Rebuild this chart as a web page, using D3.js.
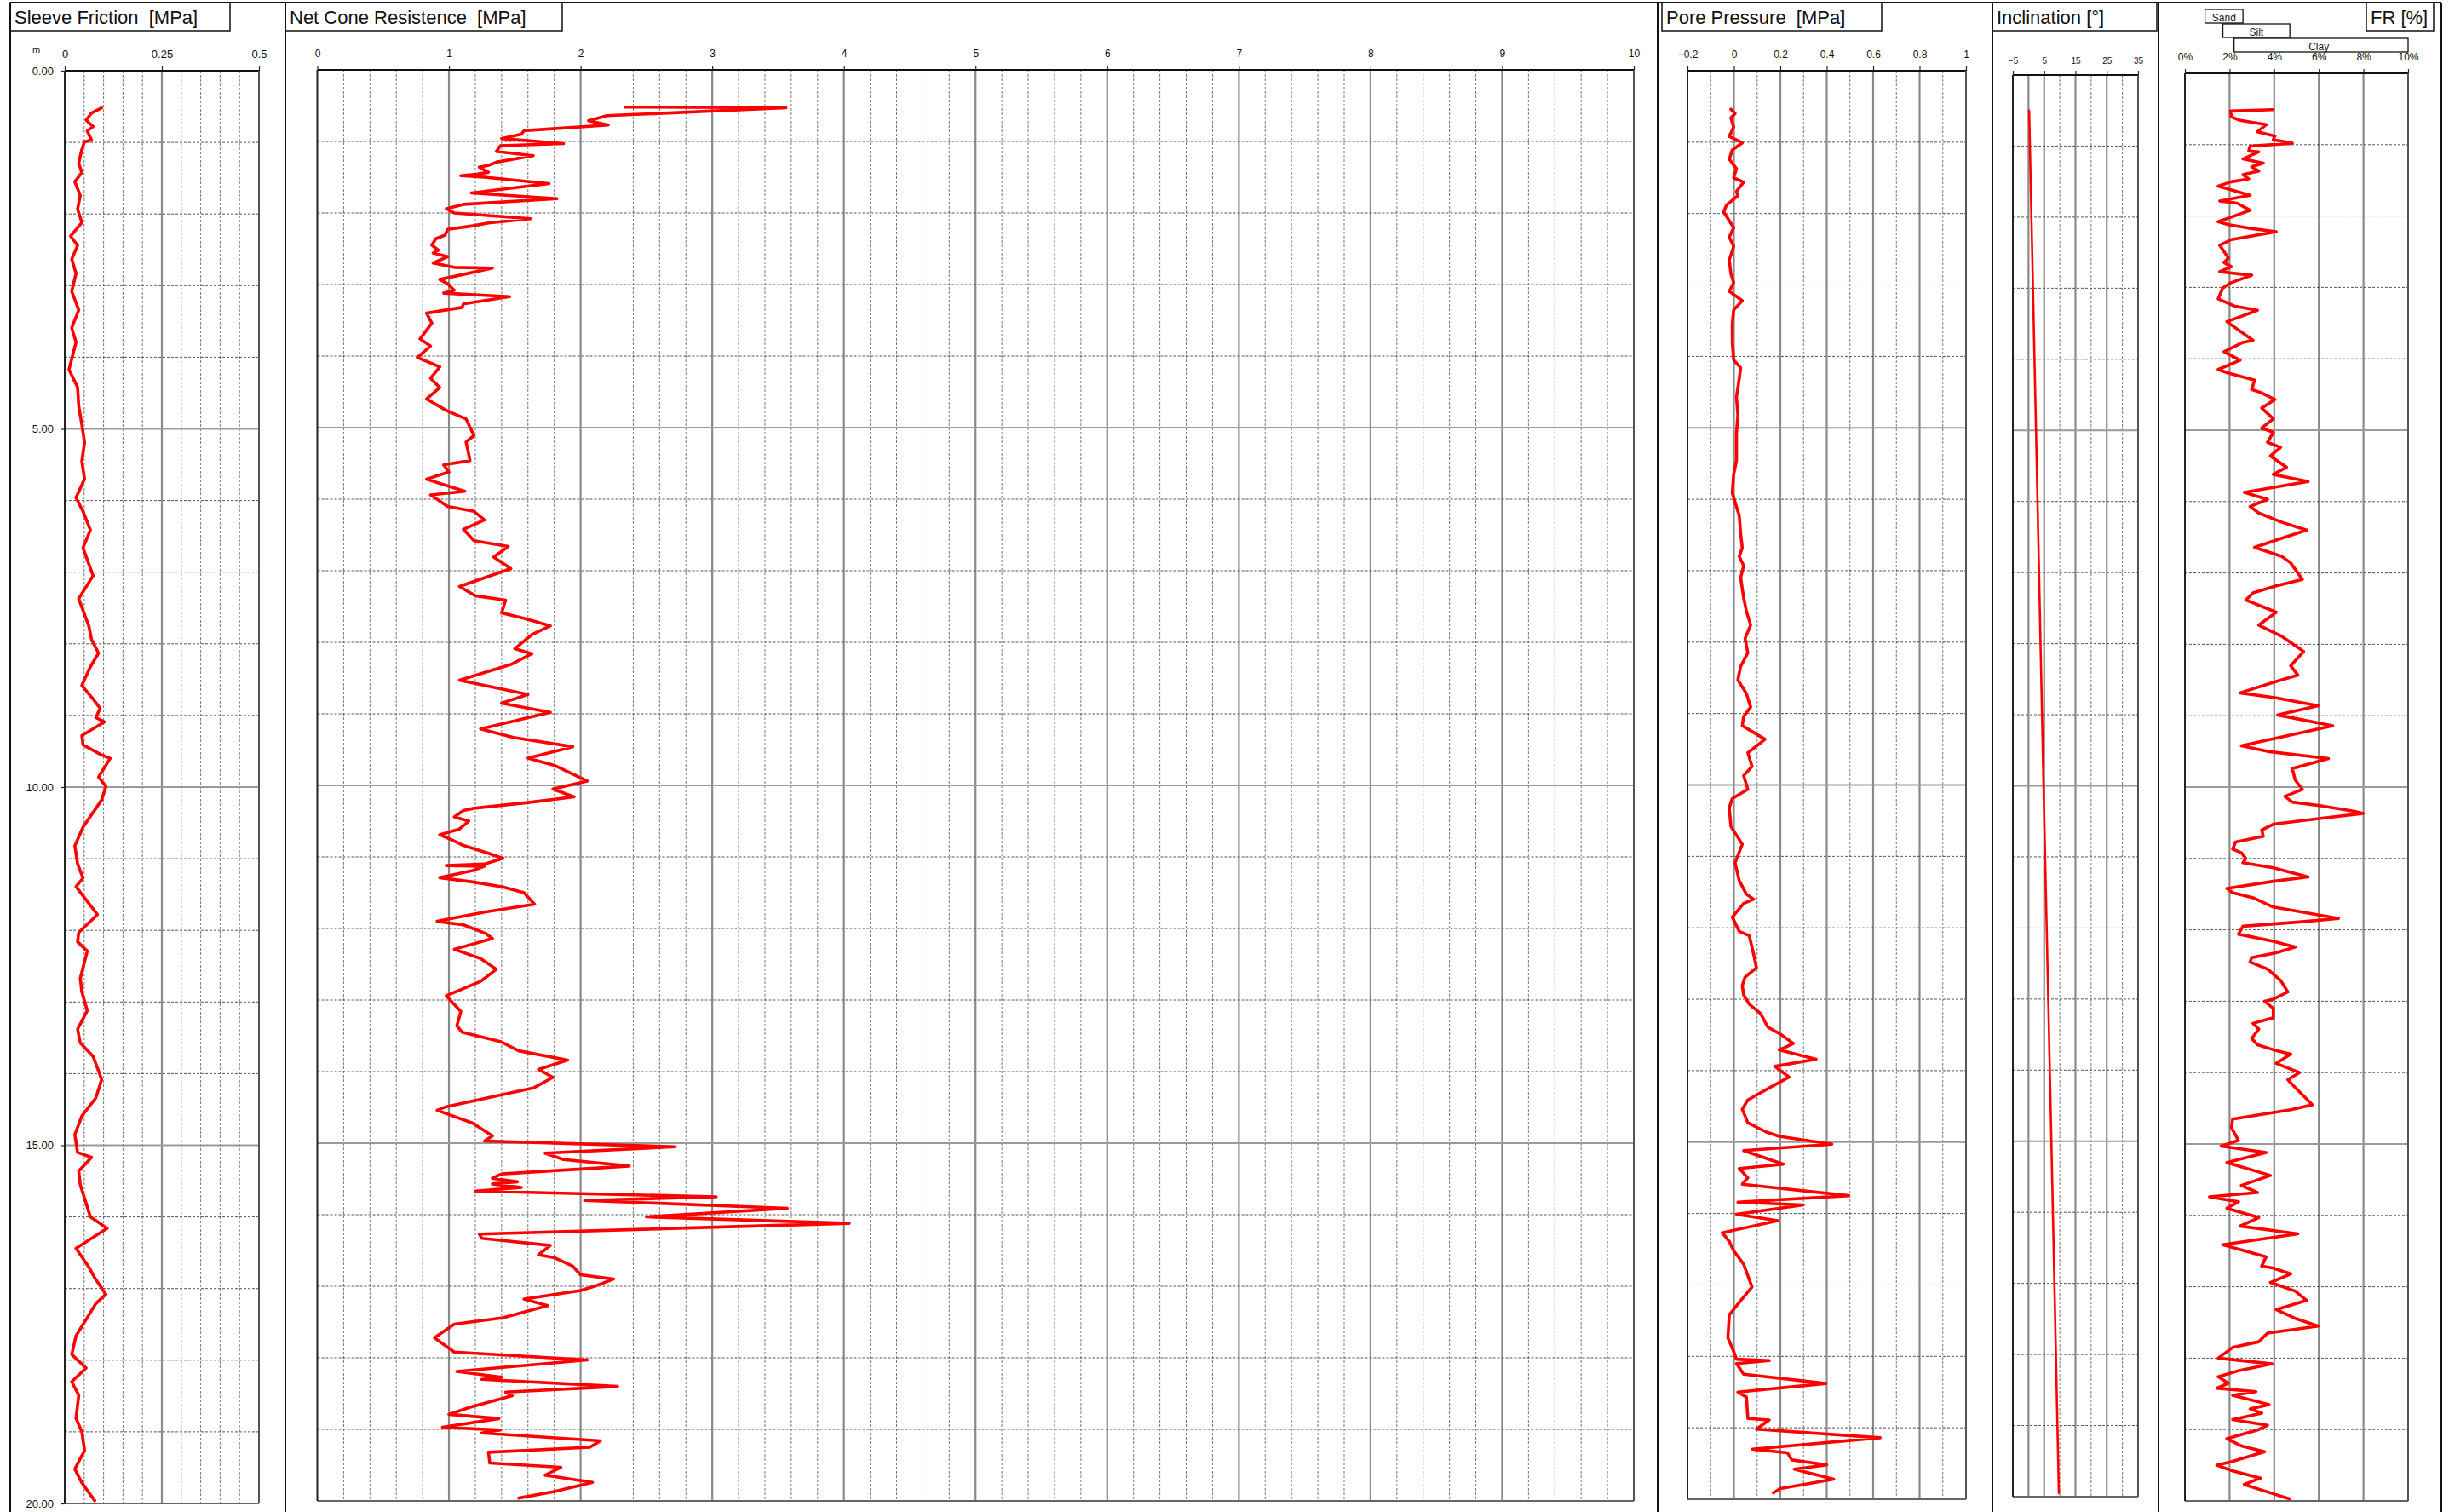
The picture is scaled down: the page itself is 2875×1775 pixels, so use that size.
<!DOCTYPE html>
<html>
<head>
<meta charset="utf-8">
<script src="https://cdn.jsdelivr.net/npm/d3@7"></script>
<style>
  body { margin: 0; background: #fff; }
  text { font-family: "Liberation Sans", Arial, sans-serif; }
</style>
</head>
<body>
<svg id="chart"></svg>
<script>
// depth axis (m)
const depthTicks = [0, 5, 10, 15, 20]

// tick labels per track
const sleeveTicks = [0, 0.25, 0.5]
const coneTicks = [0, 1, 2, 3, 4, 5, 6, 7, 8, 9, 10]
const poreTicks = [-0.2, 0, 0.2, 0.4, 0.6, 0.8, 1]
const inclTicks = [-5, 5, 15, 25, 35]
const frTicks = [0, 2, 4, 6, 8, 10]
const soilLabels = ['Sand', 'Silt', 'Clay']

// series: [depth m, value]
const sleeveFriction = [
  [0.52, 0.095], [0.59, 0.069], [0.69, 0.055], [0.78, 0.073], [0.84, 0.058], [0.97, 0.069], [0.99, 0.051],
  [1.10, 0.044], [1.29, 0.036], [1.42, 0.044], [1.55, 0.026], [1.74, 0.040], [1.93, 0.033], [2.12, 0.044],
  [2.31, 0.015], [2.44, 0.033], [2.63, 0.018], [2.83, 0.029], [3.08, 0.018], [3.34, 0.036], [3.59, 0.018],
  [3.79, 0.029], [4.17, 0.011], [4.42, 0.033], [4.68, 0.036], [4.94, 0.044], [5.19, 0.051], [5.45, 0.044],
  [5.70, 0.051], [5.96, 0.029], [6.15, 0.047], [6.41, 0.066], [6.66, 0.047], [7.05, 0.073], [7.37, 0.036],
  [7.75, 0.062], [7.94, 0.069], [8.13, 0.087], [8.32, 0.066], [8.58, 0.044], [8.77, 0.073], [8.90, 0.091],
  [9.03, 0.080], [9.09, 0.102], [9.28, 0.044], [9.41, 0.047], [9.54, 0.091], [9.60, 0.117], [9.86, 0.087],
  [9.99, 0.106], [10.18, 0.095], [10.56, 0.047], [10.82, 0.026], [11.07, 0.033], [11.27, 0.047], [11.39, 0.029],
  [11.78, 0.084], [12.03, 0.036], [12.16, 0.033], [12.29, 0.058], [12.67, 0.040], [12.86, 0.044], [13.12, 0.058],
  [13.38, 0.033], [13.57, 0.040], [13.76, 0.073], [14.08, 0.095], [14.34, 0.080], [14.59, 0.044], [14.85, 0.026],
  [15.10, 0.033], [15.17, 0.069], [15.36, 0.036], [15.55, 0.040], [16.00, 0.066], [16.16, 0.109], [16.44, 0.029],
  [16.70, 0.062], [16.85, 0.077], [17.08, 0.106], [17.21, 0.080], [17.66, 0.029], [17.92, 0.018], [18.11, 0.055],
  [18.30, 0.018], [18.49, 0.036], [18.81, 0.029], [19.00, 0.044], [19.26, 0.051], [19.52, 0.026], [19.71, 0.044],
  [19.96, 0.077]
]

const coneResistance = [
  [0.52, 2.34], [0.53, 3.56], [0.64, 2.2], [0.71, 2.06], [0.77, 2.21], [0.85, 1.57], [0.90, 1.55], [0.96, 1.40],
  [1.03, 1.87], [1.06, 1.39], [1.14, 1.36], [1.20, 1.64], [1.29, 1.36], [1.33, 1.31], [1.36, 1.23], [1.43, 1.30],
  [1.46, 1.21], [1.48, 1.09], [1.50, 1.27], [1.59, 1.76], [1.72, 1.17], [1.80, 1.82], [1.88, 1.11], [1.94, 0.98],
  [2.00, 1.04], [2.08, 1.62], [2.14, 1.30], [2.18, 1.18], [2.23, 0.99], [2.31, 0.97], [2.36, 0.90], [2.45, 0.87],
  [2.52, 0.92], [2.56, 0.88], [2.61, 0.99], [2.70, 0.88], [2.76, 1.04], [2.77, 1.33], [2.93, 0.93], [2.99, 0.99],
  [3.08, 1.04], [3.12, 0.96], [3.17, 1.46], [3.27, 1.11], [3.32, 1.10], [3.40, 0.83], [3.54, 0.87], [3.76, 0.78],
  [3.86, 0.86], [4.02, 0.76], [4.15, 0.93], [4.31, 0.86], [4.44, 0.93], [4.60, 0.83], [4.76, 0.98], [4.88, 1.13],
  [5.11, 1.19], [5.20, 1.13], [5.46, 1.16], [5.52, 0.96], [5.62, 1.00], [5.72, 0.83], [5.89, 1.12], [5.94, 0.86],
  [6.10, 0.99], [6.17, 1.19], [6.29, 1.27], [6.42, 1.11], [6.58, 1.19], [6.66, 1.45], [6.81, 1.34], [6.97, 1.47],
  [7.22, 1.08], [7.35, 1.20], [7.41, 1.43], [7.59, 1.40], [7.67, 1.58], [7.77, 1.77], [7.89, 1.63], [8.09, 1.50],
  [8.16, 1.63], [8.31, 1.47], [8.53, 1.08], [8.73, 1.60], [8.85, 1.40], [8.98, 1.77], [9.21, 1.24], [9.33, 1.49],
  [9.46, 1.94], [9.62, 1.60], [9.72, 1.80], [9.94, 2.05], [10.05, 1.79], [10.16, 1.95], [10.24, 1.60], [10.32, 1.19],
  [10.35, 1.11], [10.44, 1.04], [10.50, 1.15], [10.61, 1.08], [10.69, 0.93], [10.76, 1.02], [10.84, 1.11],
  [10.95, 1.30], [11.02, 1.41], [11.10, 1.27], [11.12, 0.98], [11.13, 1.27], [11.19, 1.18], [11.29, 0.93],
  [11.35, 1.18], [11.42, 1.41], [11.50, 1.57], [11.66, 1.65], [11.77, 1.27], [11.90, 0.91], [11.95, 1.11],
  [12.07, 1.28], [12.14, 1.33], [12.29, 1.04], [12.42, 1.24], [12.57, 1.36], [12.74, 1.24], [12.94, 0.98],
  [13.16, 1.09], [13.36, 1.06], [13.45, 1.10], [13.58, 1.39], [13.71, 1.53], [13.84, 1.90], [13.97, 1.68],
  [14.08, 1.79], [14.23, 1.64], [14.49, 0.98], [14.54, 0.91], [14.72, 1.18], [14.90, 1.33], [14.97, 1.27],
  [15.05, 2.72], [15.14, 1.73], [15.23, 1.87], [15.32, 2.37], [15.43, 1.40], [15.49, 1.33], [15.54, 1.52],
  [15.57, 1.33], [15.62, 1.55], [15.67, 1.20], [15.75, 3.03], [15.80, 2.03], [15.91, 3.57], [16.03, 2.50],
  [16.12, 4.04], [16.27, 1.23], [16.33, 1.25], [16.43, 1.77], [16.56, 1.68], [16.60, 1.80], [16.72, 1.94],
  [16.84, 2.00], [16.90, 2.25], [16.99, 2.12], [17.06, 2.00], [17.18, 1.57], [17.27, 1.75], [17.44, 1.41],
  [17.53, 1.04], [17.72, 0.89], [17.92, 1.04], [18.03, 2.05], [18.19, 1.06], [18.27, 1.40], [18.30, 1.25],
  [18.40, 2.28], [18.48, 1.43], [18.53, 1.48], [18.69, 1.16], [18.79, 1.00], [18.85, 1.38], [18.97, 0.95],
  [19.01, 1.39], [19.05, 1.25], [19.16, 2.15], [19.25, 2.07], [19.32, 1.30], [19.47, 1.31], [19.53, 1.85],
  [19.64, 1.73], [19.74, 2.09], [19.87, 1.80], [19.96, 1.53]
]

const porePressure = [
  [0.54, -0.013], [0.60, 0.005], [0.66, -0.013], [0.79, -0.001], [0.92, -0.02], [1.01, 0.036], [1.11, -0.007],
  [1.24, -0.02], [1.37, 0.011], [1.50, -0.001], [1.56, 0.042], [1.69, 0.011], [1.75, 0.017], [1.88, -0.032],
  [1.98, -0.044], [2.07, -0.026], [2.20, -0.001], [2.33, -0.02], [2.46, -0.001], [2.65, -0.02], [2.84, -0.013],
  [2.97, -0.001], [3.09, -0.02], [3.16, 0.011], [3.22, 0.036], [3.35, -0.001], [3.54, -0.007], [3.80, -0.007],
  [4.05, -0.001], [4.16, 0.029], [4.31, 0.023], [4.57, 0.011], [4.82, 0.017], [5.08, 0.011], [5.46, 0.011],
  [5.65, -0.001], [5.91, -0.007], [6.04, 0.005], [6.23, 0.023], [6.48, 0.029], [6.68, 0.036], [6.80, 0.023],
  [6.93, 0.042], [7.10, 0.029], [7.38, 0.042], [7.57, 0.054], [7.76, 0.072], [7.95, 0.048], [8.15, 0.060],
  [8.34, 0.029], [8.53, 0.017], [8.72, 0.054], [8.91, 0.072], [9.04, 0.042], [9.17, 0.036], [9.36, 0.134],
  [9.55, 0.060], [9.74, 0.078], [9.87, 0.042], [10.06, 0.060], [10.19, -0.007], [10.32, -0.020], [10.58, -0.013],
  [10.83, 0.036], [11.09, 0.005], [11.34, 0.023], [11.53, 0.054], [11.60, 0.085], [11.66, 0.042], [11.85, -0.007],
  [12.05, 0.023], [12.11, 0.066], [12.37, 0.085], [12.56, 0.097], [12.69, 0.048], [12.81, 0.036], [12.94, 0.042],
  [13.07, 0.066], [13.20, 0.115], [13.39, 0.146], [13.49, 0.201], [13.62, 0.256], [13.71, 0.195], [13.84, 0.354],
  [13.94, 0.176], [14.09, 0.238], [14.22, 0.164], [14.41, 0.060], [14.54, 0.036], [14.73, 0.060], [14.86, 0.140],
  [14.92, 0.195], [15.03, 0.422], [15.12, 0.042], [15.31, 0.213], [15.37, 0.023], [15.50, 0.060], [15.59, 0.036],
  [15.75, 0.495], [15.84, 0.017], [15.88, 0.299], [16.01, 0.011], [16.10, 0.189], [16.27, -0.050], [16.39, -0.020],
  [16.52, -0.001], [16.71, 0.042], [17.03, 0.078], [17.22, 0.029], [17.42, -0.020], [17.74, -0.026], [17.93, -0.001],
  [18.04, 0.011], [18.06, 0.152], [18.10, 0.011], [18.25, 0.042], [18.38, 0.397], [18.50, 0.017], [18.57, 0.054],
  [18.87, 0.060], [18.89, 0.152], [19.02, 0.097], [19.14, 0.63], [19.30, 0.08], [19.35, 0.23], [19.45, 0.25],
  [19.52, 0.40], [19.58, 0.26], [19.72, 0.43], [19.85, 0.20], [19.91, 0.17]
]

const inclination = [
  [0.5, 0.2], [5, 2.4], [10, 4.8], [15, 7.3], [19.95, 9.7]
]

const frictionRatio = [
  [0.51, 3.94], [0.53, 2.04], [0.61, 2.08], [0.66, 2.47], [0.72, 3.64], [0.82, 3.25], [0.88, 4.03], [0.93, 3.96],
  [0.98, 4.81], [1.02, 2.92], [1.09, 2.86], [1.10, 3.31], [1.20, 2.60], [1.26, 3.51], [1.31, 2.99], [1.37, 3.31],
  [1.42, 2.60], [1.48, 2.86], [1.52, 2.08], [1.58, 1.49], [1.71, 2.92], [1.79, 1.56], [1.82, 2.34], [1.92, 2.92],
  [2.08, 1.49], [2.12, 1.95], [2.17, 2.86], [2.22, 4.09], [2.33, 2.08], [2.41, 1.56], [2.59, 1.95], [2.65, 1.75],
  [2.71, 2.08], [2.78, 1.56], [2.83, 2.99], [2.94, 2.02], [3.01, 1.69], [3.16, 1.49], [3.26, 2.21], [3.32, 3.25],
  [3.48, 1.88], [3.74, 3.05], [3.77, 2.60], [3.90, 1.75], [4.02, 2.47], [4.15, 1.49], [4.20, 1.95], [4.30, 3.12],
  [4.43, 2.99], [4.47, 3.38], [4.57, 4.03], [4.69, 3.44], [4.84, 3.96], [4.97, 3.44], [5.03, 3.96], [5.17, 3.70],
  [5.24, 4.29], [5.36, 3.83], [5.52, 4.55], [5.62, 3.96], [5.72, 5.52], [5.87, 2.66], [5.97, 3.70], [6.07, 2.92],
  [6.16, 3.31], [6.29, 4.35], [6.40, 5.45], [6.64, 3.12], [6.77, 4.35], [6.86, 4.74], [7.09, 5.26], [7.18, 4.09],
  [7.28, 3.05], [7.38, 2.73], [7.50, 3.70], [7.55, 4.09], [7.73, 3.31], [7.89, 4.35], [8.10, 5.32], [8.30, 4.74],
  [8.43, 5.06], [8.52, 4.09], [8.68, 2.47], [8.75, 4.09], [8.86, 5.97], [8.99, 4.16], [9.14, 6.62], [9.42, 2.53],
  [9.50, 3.70], [9.60, 6.43], [9.74, 4.81], [9.90, 4.94], [10.03, 5.26], [10.05, 5.13], [10.13, 4.48],
  [10.21, 4.81], [10.26, 6.04], [10.34, 7.60], [10.37, 7.99], [10.42, 6.56], [10.52, 3.96], [10.60, 3.44],
  [10.69, 3.51], [10.77, 2.27], [10.87, 2.14], [10.92, 2.53], [11.00, 2.73], [11.06, 2.60], [11.13, 3.96],
  [11.26, 5.52], [11.32, 3.96], [11.42, 1.88], [11.48, 2.14], [11.55, 3.05], [11.68, 3.96], [11.84, 6.88],
  [11.89, 5.13], [11.95, 2.60], [12.06, 2.40], [12.16, 3.96], [12.24, 4.94], [12.32, 4.09], [12.39, 2.99],
  [12.45, 2.92], [12.55, 3.70], [12.71, 4.29], [12.87, 4.61], [12.97, 3.96], [13.00, 3.57], [13.10, 3.96],
  [13.23, 3.96], [13.31, 3.05], [13.39, 3.31], [13.52, 2.99], [13.61, 3.25], [13.68, 3.96], [13.74, 4.74],
  [13.87, 4.09], [14.00, 5.13], [14.10, 4.61], [14.21, 4.94], [14.35, 5.39], [14.45, 5.71], [14.52, 4.74],
  [14.65, 2.14], [14.77, 2.08], [14.95, 2.40], [15.03, 1.62], [15.12, 3.64], [15.26, 1.88], [15.44, 3.83],
  [15.58, 2.53], [15.68, 3.25], [15.74, 1.10], [15.81, 2.40], [15.90, 1.88], [16.03, 3.31], [16.15, 2.47],
  [16.26, 5.06], [16.41, 1.69], [16.55, 3.31], [16.58, 3.64], [16.71, 3.44], [16.74, 3.96], [16.82, 4.74],
  [16.94, 3.83], [17.06, 4.94], [17.19, 5.45], [17.32, 4.09], [17.45, 5.00], [17.55, 5.97], [17.65, 3.70],
  [17.77, 3.31], [17.85, 2.14], [18.00, 1.49], [18.08, 3.90], [18.17, 2.47], [18.26, 1.49], [18.35, 1.95],
  [18.42, 1.43], [18.47, 3.18], [18.52, 2.14], [18.65, 3.77], [18.71, 2.92], [18.77, 3.44], [18.86, 2.14],
  [18.94, 3.70], [19.00, 3.31], [19.13, 1.88], [19.23, 2.53], [19.31, 3.57], [19.45, 2.08], [19.50, 1.43],
  [19.58, 2.14], [19.68, 3.38], [19.77, 2.66], [19.90, 3.96], [19.97, 4.68]
]

const W = 2875
const H = 1775
const svg = d3.select('#chart').attr('width', W).attr('height', H)
const lineRed = '#ff0000'

// 每個欄位的設定
const panels = [
  {
    title: 'Sleeve Friction  [MPa]', box: [12, 270], frame: 12,
    xr: [76, 304], yr: [83, 1765], domain: [0, 0.5], ticks: sleeveTicks, fmt: d3.format(''),
    step: 0.05, fontSize: 13, data: sleeveFriction
  },
  {
    title: 'Net Cone Resistence  [MPa]', box: [335, 660], frame: 335,
    xr: [372.5, 1918], yr: [82, 1762], domain: [0, 10], ticks: coneTicks, fmt: d3.format(''),
    step: 0.2, fontSize: 12, data: coneResistance
  },
  {
    title: 'Pore Pressure  [MPa]', box: [1951, 2209], frame: 1946,
    xr: [1981, 2308], yr: [83, 1760], domain: [-0.2, 1], ticks: poreTicks, fmt: d3.format(''),
    step: 0.1, fontSize: 12, data: porePressure
  },
  {
    title: 'Inclination [°]', box: [2339, 2532], frame: 2339,
    xr: [2363, 2510], yr: [88, 1757], domain: [-5, 35], ticks: inclTicks, fmt: d3.format(''),
    step: 5, fontSize: 10, data: inclination, width: 2.6
  },
  {
    title: 'FR [%]', box: [2778, 2857], frame: 2534,
    xr: [2565, 2827], yr: [86, 1762], domain: [0, 10], ticks: frTicks, fmt: d => `${d}%`,
    step: 2, fontSize: 12, data: frictionRatio
  }
]

function drawPanel(p) {
  const x = d3.scaleLinear().domain(p.domain).range(p.xr)
  const y = d3.scaleLinear().domain([0, 20]).range(p.yr)
  const g = svg.append('g')

  // 垂直格線
  const n = Math.round((p.domain[1] - p.domain[0]) / p.step)
  const vLines = d3.range(1, n).map(i => p.domain[0] + i * p.step)
  const isMajor = v => p.ticks.some(t => Math.abs(t - v) < 1e-6) || Math.abs(v) < 1e-6
  g.selectAll('.vgrid')
    .data(vLines)
    .enter()
    .append('line')
    .attr('x1', d => x(d)).attr('x2', d => x(d))
    .attr('y1', y(0)).attr('y2', y(20))
    .attr('stroke', d => isMajor(d) ? '#8a8a8a' : '#777')
    .attr('stroke-width', d => isMajor(d) ? 2.2 : 1)
    .attr('stroke-dasharray', d => isMajor(d) ? null : '3,2')

  // 水平格線 (每 1 m)
  const hLines = d3.range(1, 20)
  g.selectAll('.hgrid')
    .data(hLines)
    .enter()
    .append('line')
    .attr('x1', p.xr[0]).attr('x2', p.xr[1])
    .attr('y1', d => y(d)).attr('y2', d => y(d))
    .attr('stroke', d => d % 5 === 0 ? '#9a9a9a' : '#555')
    .attr('stroke-width', d => d % 5 === 0 ? 2 : 1)
    .attr('stroke-dasharray', d => d % 5 === 0 ? null : '3,2')

  // 外框
  g.append('line').attr('x1', p.xr[0]).attr('x2', p.xr[1]).attr('y1', y(0)).attr('y2', y(0))
    .attr('stroke', '#111').attr('stroke-width', 2)
  g.append('line').attr('x1', p.xr[0]).attr('x2', p.xr[1]).attr('y1', y(20)).attr('y2', y(20))
    .attr('stroke', '#666').attr('stroke-width', 2.2)
  g.append('line').attr('x1', p.xr[0]).attr('x2', p.xr[0]).attr('y1', y(0)).attr('y2', y(20))
    .attr('stroke', '#222').attr('stroke-width', 2)
  g.append('line').attr('x1', p.xr[1]).attr('x2', p.xr[1]).attr('y1', y(0)).attr('y2', y(20))
    .attr('stroke', '#555').attr('stroke-width', 2)

  // 上方刻度
  const axis = g.append('g')
    .attr('transform', `translate(0,${y(0)})`)
    .call(d3.axisTop(x).tickValues(p.ticks).tickSize(5).tickPadding(p.fontSize < 12 ? 8 : 10).tickFormat(p.fmt))
  axis.select('.domain').remove()
  axis.selectAll('line').attr('stroke', '#222').attr('stroke-width', 1.2)
  axis.selectAll('text')
    .attr('fill', '#111')
    .style('font-size', `${p.fontSize}px`)
    .style('font-family', '"Liberation Sans", Arial, sans-serif')

  // 曲線
  const line = d3.line()
    .x(d => x(d[1]))
    .y(d => y(d[0]))
  g.append('path')
    .datum(p.data)
    .attr('d', line)
    .attr('fill', 'none')
    .attr('stroke', lineRed)
    .attr('stroke-width', p.width || 3.6)
    .attr('stroke-linejoin', 'round')
    .attr('stroke-linecap', 'round')

  // 標題框
  svg.append('rect')
    .attr('x', p.box[0]).attr('y', 3)
    .attr('width', p.box[1] - p.box[0]).attr('height', 33)
    .attr('fill', 'none').attr('stroke', '#111').attr('stroke-width', 1.5)
  svg.append('text')
    .attr('x', p.box[0] + 5).attr('y', 28)
    .style('font-size', '22px')
    .style('white-space', 'pre')
    .attr('xml:space', 'preserve')
    .attr('fill', '#111')
    .text(p.title)

  return { x, y }
}

const scales = panels.map(drawPanel)

// 深度軸
const depthScale = scales[0].y
const depthAxis = svg.append('g')
  .attr('transform', `translate(${panels[0].xr[0]},0)`)
  .call(d3.axisLeft(depthScale).tickValues(depthTicks).tickSize(4).tickPadding(9).tickFormat(d3.format('.2f')))
depthAxis.select('.domain').remove()
depthAxis.selectAll('line').attr('stroke', '#222').attr('stroke-width', 1.2)
depthAxis.selectAll('text').style('font-size', '13px').attr('fill', '#111')
svg.append('text').attr('x', 38).attr('y', 62).style('font-size', '11px').attr('fill', '#111').text('m')

// 土壤分類框 (FR 欄)
const frX = scales[4].x
const soilRange = [[0.9, 2.6], [1.7, 4.7], [2.2, 10]]
const soilRow = [11, 28, 45]
soilLabels.forEach((label, i) => {
  const x0 = frX(soilRange[i][0])
  const x1 = frX(soilRange[i][1])
  svg.append('rect')
    .attr('x', x0).attr('y', soilRow[i])
    .attr('width', x1 - x0).attr('height', 16)
    .attr('fill', 'none').attr('stroke', '#111').attr('stroke-width', 1.3)
  svg.append('text')
    .attr('x', i === 2 ? frX(6) : (x0 + x1) / 2)
    .attr('y', soilRow[i] + 14)
    .attr('text-anchor', 'middle')
    .style('font-size', '12px')
    .attr('fill', '#111')
    .text(label)
})

// 欄位分隔線
const seps = [12, 335, 1946, 2339, 2534, 2866]
svg.append('line').attr('x1', 12).attr('x2', 2866).attr('y1', 3).attr('y2', 3)
  .attr('stroke', '#111').attr('stroke-width', 2)
svg.selectAll('.sep')
  .data(seps)
  .enter()
  .append('line')
  .attr('x1', d => d).attr('x2', d => d)
  .attr('y1', 3).attr('y2', H)
  .attr('stroke', '#111').attr('stroke-width', 2)
</script>
</body>
</html>
